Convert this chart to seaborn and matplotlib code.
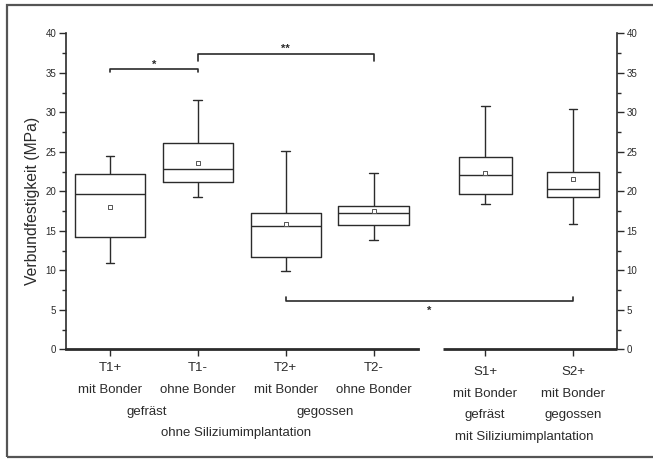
import numpy as np
import pandas as pd
import matplotlib
matplotlib.use("Agg")
import matplotlib.pyplot as plt
import matplotlib.transforms as mtransforms
from matplotlib.ticker import MultipleLocator, AutoMinorLocator
from matplotlib.patches import Rectangle
import seaborn as sns

# ---------------- data ----------------
categories = ["T1+", "T1-", "T2+", "T2-", "S1+", "S2+"]
subtitles = ["mit Bonder", "ohne Bonder", "mit Bonder", "ohne Bonder", "mit Bonder", "mit Bonder"]
whisker_low = [10.9, 19.3, 9.95, 13.8, 18.4, 15.9]
q1 = [14.2, 21.2, 11.7, 15.7, 19.7, 19.3]
median = [19.6, 22.8, 15.6, 17.25, 22.0, 20.3]
q3 = [22.15, 26.1, 17.3, 18.1, 24.3, 22.5]
whisker_high = [24.5, 31.5, 25.1, 22.3, 30.8, 30.4]
means = [18.05, 23.6, 15.9, 17.5, 22.3, 21.6]
yticks = [0, 5, 10, 15, 20, 25, 30, 35, 40]

# ---------------- layout ----------------
sns.set_theme(style="ticks")
plt.rcParams["font.family"] = ["Liberation Sans", "DejaVu Sans"]
INK = "#2b2b2b"

n_t = 4
gap = 1.27
positions = [float(i) for i in range(n_t)] + \
    [(n_t - 1) + gap + j for j in range(len(categories) - n_t)]

rows = []
for cat, p, lo, a, m, b, hi in zip(categories, positions, whisker_low, q1, median, q3, whisker_high):
    for v in (lo, a, m, b, hi):
        rows.append({"cat": cat, "pos": p, "value": v})
df = pd.DataFrame(rows)
df_t = df[df["cat"].isin(categories[:n_t])]
df_s = df[df["cat"].isin(categories[n_t:])]

fig = plt.figure(figsize=(6.53, 4.61), dpi=100)
ax = fig.add_axes([66 / 653, 1 - 349.3 / 461, 551 / 653, 316 / 461])

common = dict(x="pos", y="value", native_scale=True, orient="x", whis=(0, 100),
              fill=False, color=INK, linecolor=INK, linewidth=1.0, ax=ax,
              capwidths=0.1)
sns.boxplot(data=df_t, width=0.8, **common)
sns.boxplot(data=df_s, width=0.6, **common)

ax.scatter(positions, means, marker="s", s=10, facecolor="white", edgecolor="#555555",
           linewidth=0.7, zorder=5)

ax.set_xlim(-0.5, positions[-1] + 0.5)
ax.set_ylim(0, 40)
ax.yaxis.set_major_locator(MultipleLocator(5))
ax.yaxis.set_minor_locator(AutoMinorLocator(2))
ax.set_yticks(yticks)
ax.set_xticks(positions)
ax.set_xticklabels([""] * len(positions))
ax.set_xlabel("")
ax.set_ylabel("Verbundfestigkeit (MPa)", fontsize=11.3, color=INK)
ax.yaxis.set_label_coords(-0.047, 0.47)

ax.tick_params(axis="y", which="major", direction="out", length=5, width=1,
               labelsize=7, colors=INK, left=True, right=True,
               labelleft=True, labelright=True, pad=2)
ax.tick_params(axis="y", which="minor", direction="out", length=3, width=1,
               left=True, right=True, colors=INK)
ax.tick_params(axis="x", which="major", direction="out", length=5, width=1, colors=INK)
ax.tick_params(axis="x", which="minor", bottom=False)

for side in ("left", "right"):
    ax.spines[side].set_color(INK)
    ax.spines[side].set_linewidth(1.2)
ax.spines["top"].set_visible(False)
ax.spines["bottom"].set_color(INK)
ax.spines["bottom"].set_linewidth(2.0)
ax.spines["bottom"].set_bounds(-0.5, positions[n_t - 1] + 0.5)
trans = mtransforms.blended_transform_factory(ax.transData, ax.transAxes)
ax.plot([positions[n_t] - 0.48, positions[-1] + 0.5], [0, 0], transform=trans,
        color=INK, lw=2.0, clip_on=False, solid_capstyle="butt")

# category labels
def ax_y(ypix):
    return (349.3 - ypix) / 316

for i, (p, c, s) in enumerate(zip(positions, categories, subtitles)):
    off = 0 if i < n_t else 4
    ax.text(p, ax_y(368 + off), c, transform=trans, ha="center", va="center",
            fontsize=9.5, color=INK)
    ax.text(p, ax_y(390 + off), s, transform=trans, ha="center", va="center",
            fontsize=9.5, color=INK)

ax.text(0.42, ax_y(412), "gefräst", transform=trans, ha="center", va="center", fontsize=9.5, color=INK)
ax.text(2.45, ax_y(412), "gegossen", transform=trans, ha="center", va="center", fontsize=9.5, color=INK)
ax.text(1.43, ax_y(433), "ohne Siliziumimplantation", transform=trans, ha="center", va="center", fontsize=9.5, color=INK)
ax.text(positions[4], ax_y(415), "gefräst", transform=trans, ha="center", va="center", fontsize=9.5, color=INK)
ax.text(positions[5], ax_y(415), "gegossen", transform=trans, ha="center", va="center", fontsize=9.5, color=INK)
ax.text((positions[4] + positions[5]) / 2 - 0.05, ax_y(437), "mit Siliziumimplantation", transform=trans,
        ha="center", va="center", fontsize=9.5, color=INK)

# significance brackets
def bracket(x0, x1, y, leg, label, ty):
    ax.plot([x0, x0, x1, x1], [y + leg, y, y, y + leg], color=INK, lw=1.2, clip_on=False)
    ax.text((x0 + x1) / 2, ty, label, ha="center", va="center", fontsize=8,
            fontweight="bold", color=INK)

bracket(positions[0], positions[1], 35.5, -0.45, "*", 36.0)
bracket(positions[1], positions[3], 37.4, -0.9, "**", 38.0)
bracket(positions[2], positions[5], 6.1, 0.5, "*", 4.9)

# outer frame
fig.patches.append(Rectangle((7 / 653, 4.3 / 461), 1.1, 1 - 9.8 / 461,
                             transform=fig.transFigure, fill=False,
                             edgecolor="#555555", lw=1.6))

fig.savefig("out.png", dpi=100)
